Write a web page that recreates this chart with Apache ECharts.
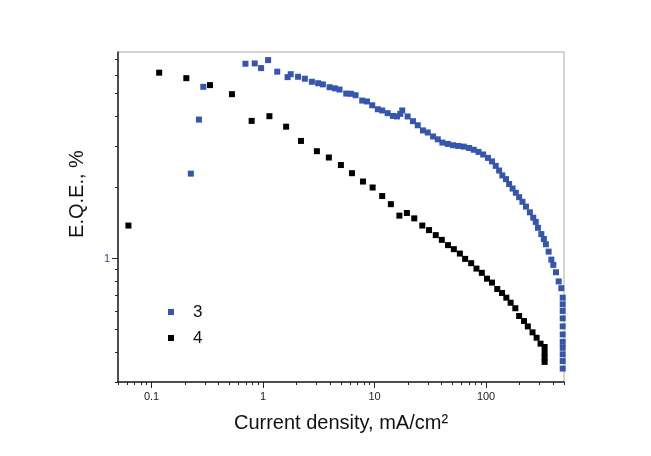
<!DOCTYPE html>
<html><head><meta charset="utf-8">
<script src="https://cdn.jsdelivr.net/npm/echarts@6/dist/echarts.min.js"></script>
<style>html,body{margin:0;padding:0;background:#fff}#c{width:651px;height:456px}</style>
</head><body><div id="c"></div>
<script>
// ---- data ----
const seriesNames = ['3', '4'];
const blueX = [0.225, 0.266, 0.291, 0.695, 0.842, 0.96, 1.11, 1.34, 1.66, 1.77, 2.06, 2.37, 2.74, 3.12, 3.44, 3.95, 4.41, 4.85, 5.57, 6.14, 6.76, 7.75, 8.55, 9.53, 10.7, 11.7, 13.1, 14.6, 15.9, 17.0, 17.7, 19.8, 22.1, 24.4, 27.2, 30.0, 33.5, 36.9, 40.6, 45.4, 50.6, 56.5, 63.1, 70.5, 77.6, 85.5, 94.2, 104, 113, 122, 131, 140, 151, 161, 173, 185, 198, 212, 228, 247, 265, 279, 292, 313, 330, 344, 364, 385, 401, 424, 448, 473, 487, 487, 487, 487, 487, 487, 487, 487, 487, 487, 487];
const blueY = [2.29, 3.88, 5.34, 6.69, 6.71, 6.41, 6.93, 6.19, 5.87, 6.04, 5.89, 5.78, 5.61, 5.53, 5.47, 5.32, 5.26, 5.20, 5.00, 4.99, 4.92, 4.67, 4.63, 4.46, 4.29, 4.24, 4.13, 4.02, 4.00, 4.10, 4.24, 4.00, 3.82, 3.67, 3.49, 3.42, 3.29, 3.20, 3.10, 3.06, 3.02, 3.00, 2.98, 2.94, 2.89, 2.83, 2.76, 2.67, 2.58, 2.47, 2.36, 2.25, 2.17, 2.07, 1.98, 1.90, 1.82, 1.74, 1.66, 1.57, 1.49, 1.43, 1.35, 1.27, 1.21, 1.15, 1.07, 0.99, 0.94, 0.875, 0.80, 0.749, 0.683, 0.640, 0.600, 0.558, 0.516, 0.477, 0.444, 0.419, 0.393, 0.368, 0.342];
const blackX = [0.062, 0.117, 0.205, 0.334, 0.526, 0.79, 1.14, 1.61, 2.19, 3.04, 3.89, 4.99, 6.27, 7.87, 9.61, 11.7, 14.0, 16.7, 19.5, 22.7, 26.8, 30.8, 35.4, 40.1, 45.6, 51.4, 58.2, 64.9, 73.5, 82.0, 91.6, 102, 113, 126, 139, 152, 166, 183, 198, 219, 237, 261, 284, 308, 335, 335, 335, 335];
const blackY = [1.38, 6.13, 5.81, 5.43, 4.97, 3.83, 4.01, 3.62, 3.15, 2.85, 2.68, 2.49, 2.30, 2.12, 2.00, 1.84, 1.70, 1.52, 1.56, 1.48, 1.38, 1.32, 1.257, 1.20, 1.14, 1.096, 1.05, 0.997, 0.956, 0.907, 0.870, 0.822, 0.791, 0.743, 0.715, 0.683, 0.650, 0.616, 0.571, 0.544, 0.516, 0.487, 0.462, 0.436, 0.422, 0.399, 0.380, 0.365];
const xMajorTicks = [0.1, 1, 10, 100];
const xMinorTicks = [0.05, 0.06, 0.07, 0.08, 0.09, 0.2, 0.3, 0.4, 0.5, 0.6, 0.7, 0.8, 0.9, 2, 3, 4, 5, 6, 7, 8, 9, 20, 30, 40, 50, 60, 70, 80, 90, 200, 300, 400, 500];
const yMajorTicks = [1];
const yMinorTicks = [0.3, 0.4, 0.5, 0.6, 0.7, 0.8, 0.9, 2, 3, 4, 5, 6, 7];
const xTitle = 'Current density, mA/cm²';
const yTitle = 'E.Q.E., %';

// ---- chart ----
const zip = (xs, ys) => xs.map((x, i) => [x, ys[i]]);
const FONT = '"Liberation Sans", Arial, sans-serif';
const chart = echarts.init(document.getElementById('c'), null, {renderer: 'canvas'});
const baseX = {type: 'log', logBase: 10, min: 0.05, max: 500, gridIndex: 0, position: 'bottom', splitLine: {show: false}};
const baseY = {type: 'log', logBase: 10, min: 0.3, max: 7.5, gridIndex: 0, position: 'left', splitLine: {show: false}};
chart.setOption({
  animation: false,
  backgroundColor: '#ffffff',
  grid: {left: 118, right: 87, top: 52, bottom: 74, show: true, borderColor: '#a8a8a8', borderWidth: 1, backgroundColor: 'transparent'},
  legend: {
    orient: 'vertical', left: 163, top: 297, itemWidth: 6, itemHeight: 6, itemGap: 6, icon: 'rect',
    textStyle: {fontFamily: FONT, fontSize: 17, color: '#111', lineHeight: 20, padding: [0, 0, 0, 14]},
    data: seriesNames
  },
  xAxis: [
    Object.assign({}, baseX, {
      name: xTitle, nameLocation: 'middle', nameGap: 31,
      nameTextStyle: {fontFamily: FONT, fontSize: 20, color: '#111'},
      axisLine: {show: true, lineStyle: {color: '#222', width: 1.5}},
      axisTick: {show: true, inside: false, length: 3, customValues: xMinorTicks, lineStyle: {color: '#222', width: 1}},
      axisLabel: {show: false}
    }),
    Object.assign({}, baseX, {
      axisLine: {show: false},
      axisTick: {show: true, inside: false, length: 6, customValues: xMajorTicks, lineStyle: {color: '#222', width: 1}},
      axisLabel: {show: true, customValues: xMajorTicks, margin: 9, fontFamily: FONT, fontSize: 11, color: '#222', formatter: v => String(v)}
    })
  ],
  yAxis: [
    Object.assign({}, baseY, {
      name: yTitle, nameLocation: 'middle', nameGap: 31,
      nameTextStyle: {fontFamily: FONT, fontSize: 20, color: '#111', padding: [0, 0, 0, 46]},
      axisLine: {show: true, lineStyle: {color: '#222', width: 1.5}},
      axisTick: {show: true, inside: false, length: 3, customValues: yMinorTicks, lineStyle: {color: '#222', width: 1}},
      axisLabel: {show: false}
    }),
    Object.assign({}, baseY, {
      axisLine: {show: false},
      axisTick: {show: true, inside: false, length: 6, customValues: yMajorTicks, lineStyle: {color: '#222', width: 1}},
      axisLabel: {show: true, customValues: yMajorTicks, margin: 8, fontFamily: FONT, fontSize: 11, color: '#2f4f9f', formatter: v => String(v)}
    })
  ],
  series: [
    {name: seriesNames[0], type: 'scatter', xAxisIndex: 0, yAxisIndex: 0, symbol: 'rect', symbolSize: 6,
     itemStyle: {color: '#3556ad', opacity: 1}, data: zip(blueX, blueY)},
    {name: seriesNames[1], type: 'scatter', xAxisIndex: 0, yAxisIndex: 0, symbol: 'rect', symbolSize: 6,
     itemStyle: {color: '#000000', opacity: 1}, data: zip(blackX, blackY)}
  ]
});
</script>
</body></html>
